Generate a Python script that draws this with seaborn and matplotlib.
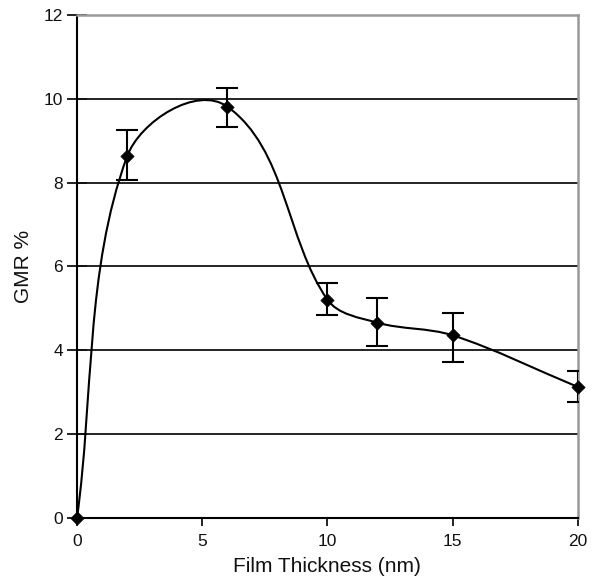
import numpy as np
import matplotlib
matplotlib.use("Agg")
import matplotlib.pyplot as plt
from matplotlib.path import Path
from matplotlib.patches import PathPatch
import seaborn as sns

# data
thickness = [0, 2, 6, 10, 12, 15, 20]
gmr = [0.0, 8.62, 9.81, 5.21, 4.66, 4.36, 3.13]
err_hi = [0.0, 9.24, 10.26, 5.60, 5.25, 4.90, 3.52]
err_lo = [0.0, 8.07, 9.33, 4.84, 4.10, 3.73, 2.77]

sns.set_theme(style="white")
plt.rcParams['font.family'] = ['Liberation Sans', 'DejaVu Sans']

fig = plt.figure(figsize=(5.92, 5.85), dpi=100)
ax = fig.add_axes([0.130, 0.114, 0.846, 0.861])
ax.set_xlim(0, 20)
ax.set_ylim(0, 12)


def smooth_path(ax, xs, ys):
    # spreadsheet-like smoothed line: bezier, tangent along neighbours,
    # handle length = 1/3 of the adjacent segment (in screen space)
    pts = ax.transData.transform(np.column_stack([xs, ys]))
    n = len(pts)
    dirs = []
    for i in range(n):
        a = pts[max(i - 1, 0)]
        b = pts[min(i + 1, n - 1)]
        d = b - a
        dirs.append(d / np.hypot(*d))
    verts = [pts[0]]
    codes = [Path.MOVETO]
    for i in range(n - 1):
        seg = np.hypot(*(pts[i + 1] - pts[i]))
        c1 = pts[i] + dirs[i] * seg / 3.0
        c2 = pts[i + 1] - dirs[i + 1] * seg / 3.0
        verts += [c1, c2, pts[i + 1]]
        codes += [Path.CURVE4] * 3
    verts = ax.transData.inverted().transform(np.array(verts))
    return Path(verts, codes)


ax.add_patch(PathPatch(smooth_path(ax, thickness, gmr), facecolor='none',
                       edgecolor='black', lw=1.5, zorder=3))

# error bars (skip the zero point)
x_e = np.array(thickness[1:])
y_e = np.array(gmr[1:])
lo = y_e - np.array(err_lo[1:])
hi = np.array(err_hi[1:]) - y_e
ax.errorbar(x_e, y_e, yerr=[lo, hi], fmt='none', ecolor='black', elinewidth=1.5,
            capsize=8, capthick=1.5, zorder=3)

sns.scatterplot(x=thickness, y=gmr, marker='D', s=45, color='black', edgecolor='black',
                ax=ax, zorder=4, clip_on=False)

ax.set_xticks([0, 5, 10, 15, 20])
ax.set_yticks(range(0, 13, 2))
ax.yaxis.grid(True, color='black', lw=1.2)
ax.set_axisbelow(True)

for s in ['left', 'bottom']:
    ax.spines[s].set_color('black')
    ax.spines[s].set_linewidth(1.5)
for s in ['top', 'right']:
    ax.spines[s].set_color('#999999')
    ax.spines[s].set_linewidth(1.8)

ax.tick_params(axis='y', direction='inout', length=14, width=1.3, colors='#111111', labelsize=12.5, pad=3)
ax.tick_params(axis='x', direction='out', length=6, width=1.3, colors='#111111', labelsize=12.5, pad=5)
ax.tick_params(left=True, bottom=True)

ax.set_xlabel('Film Thickness (nm)', fontsize=15, color='#111111', labelpad=6)
ax.set_ylabel('GMR %', fontsize=15, color='#111111', labelpad=8)

fig.savefig('out.png', dpi=100, facecolor='white')
